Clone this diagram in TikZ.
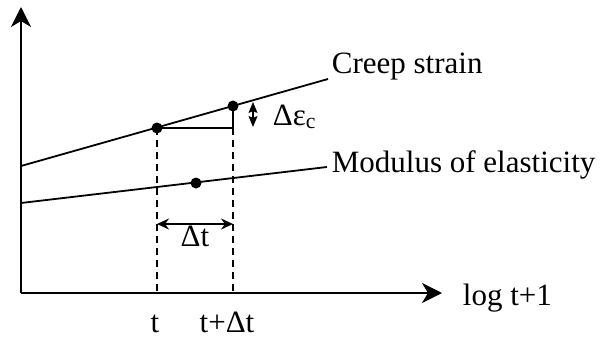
\documentclass[tikz,border=0pt]{standalone}
\usepackage{fontspec}
\setmainfont{Liberation Serif}
\usetikzlibrary{arrows.meta}
\begin{document}
\begin{tikzpicture}[x=1pt,y=-1pt,
  line width=1.8pt,
  lbl/.style={inner sep=0pt,font=\fontsize{31}{36}\selectfont},
  dot/.style={circle,fill=black,inner sep=0pt,minimum size=11pt},
  bigtip/.style={-{Stealth[length=20pt,width=20pt,inset=6pt]}},
  dashline/.style={dash pattern=on 7pt off 5pt,line width=1.5pt}]
\useasboundingbox (0,0) rectangle (604,340);
% axes
\coordinate (O) at (21,293);
\coordinate (ytop) at (21,7);
\coordinate (xend) at (442,293);
\draw[bigtip] (O) -- (ytop);
\draw[bigtip] (O) -- (xend);
\node[lbl,anchor=base west] (xlab) at (462,305) {log t+1};
% creep strain line
\coordinate (c0) at (21,166);
\coordinate (c1) at (328,79);
\draw (c0) -- (c1);
\node[lbl,anchor=base west] (clab) at (331,73) {Creep strain};
% modulus line
\coordinate (m0) at (21,203);
\coordinate (m1) at (327,167);
\draw (m0) -- (m1);
\node[lbl,anchor=base west] (mlab) at (331,172) {Modulus of elasticity};
% dots
\node[dot] (p1) at (157,128) {};
\node[dot] (p2) at (233,106) {};
\node[dot] (p3) at (196,183) {};
% triangle
\coordinate (corner) at (233,128);
\draw[line width=1.5pt] (p1.center) -- (corner) -- (p2.center);
% dashed verticals
\coordinate (b1) at (157,293);
\coordinate (b2) at (233,293);
\draw[dashline] (p1.center) -- (b1);
\draw[dashline] (corner) -- (b2);
% delta epsilon arrow
\coordinate (e1) at (253,102);
\coordinate (e2) at (253,127);
\draw[line width=1.2pt,{Stealth[length=11pt,width=9pt,inset=2pt]}-{Stealth[length=11pt,width=9pt,inset=2pt]}] (e1) -- (e2);
\node[lbl,anchor=base west] (elab) at (272,125) {Δε\textsubscript{c}};
% delta t arrow
\coordinate (t1) at (157,224);
\coordinate (t2) at (233,224);
\draw[line width=1.5pt,{Stealth[length=12pt,width=11pt]}-{Stealth[length=12pt,width=11pt]}] (t1) -- (t2);
\node[lbl,anchor=base] (dtlab) at (195,246) {Δt};
% tick labels
\node[lbl,anchor=base] (tl) at (155,332) {t};
\node[lbl,anchor=base] (tdl) at (227,332) {t+Δt};
\end{tikzpicture}
\end{document}
